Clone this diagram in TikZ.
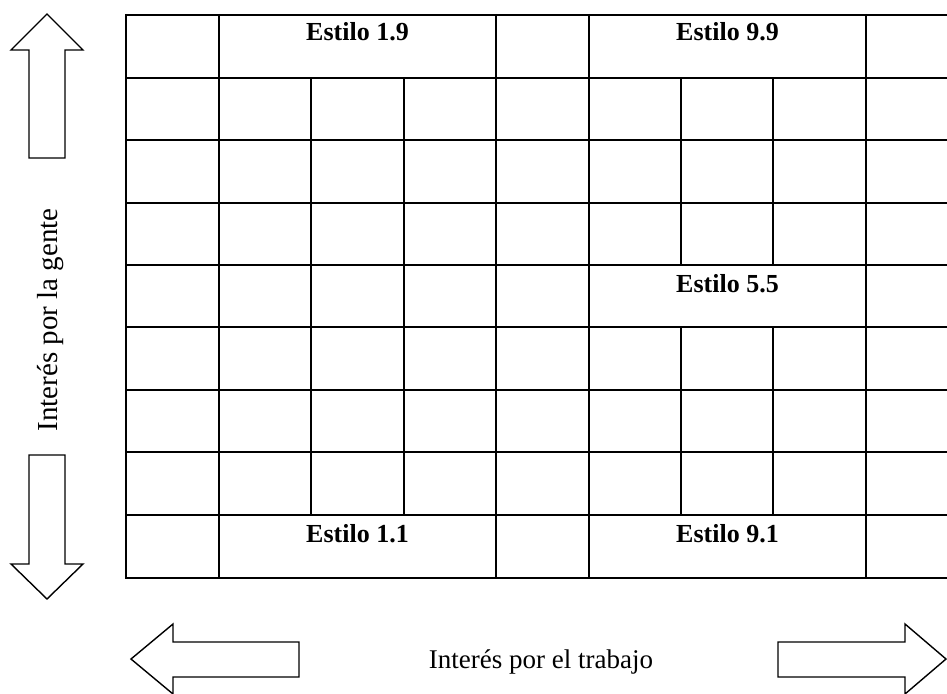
\documentclass[tikz,border=0pt]{standalone}
\usepackage{fontspec}
\setmainfont{Liberation Serif}
\begin{document}
\begin{tikzpicture}[x=1pt,y=-1pt,
  gridline/.style={line width=2pt},
  blockarrow/.style={draw,line width=1.4pt,line join=miter,fill=white},
  celllabel/.style={font=\fontsize{26}{30}\selectfont\bfseries,anchor=base},
  axislabel/.style={font=\fontsize{27}{32}\selectfont,anchor=base}]
\useasboundingbox (0,0) rectangle (947,693);
% horizontal rules of the grid
\foreach \y in {15,78,140,203,265,327,390,452,515,578}
  \draw[gridline] (125,\y) -- (947,\y);
% full-height column rules
\foreach \x in {126,219,496,589,866}
  \draw[gridline] (\x,14) -- (\x,579);
% inner column rules broken by the merged cells
\foreach \x in {311,404}
  \draw[gridline] (\x,78) -- (\x,515);
\foreach \x in {681,773}{
  \draw[gridline] (\x,78) -- (\x,265);
  \draw[gridline] (\x,327) -- (\x,515);}
% labels of the merged cells
\node[celllabel] (s19) at (357.5,41) {Estilo 1.9};
\node[celllabel] (s99) at (727.5,41) {Estilo 9.9};
\node[celllabel] (s55) at (727.5,292) {Estilo 5.5};
\node[celllabel] (s11) at (357.5,542) {Estilo 1.1};
\node[celllabel] (s91) at (727.5,542) {Estilo 9.1};
% vertical axis: arrows and label
\draw[blockarrow] (47,14) -- (83,50) -- (65,50) -- (65,158) -- (29,158) -- (29,50) -- (11,50) -- cycle;
\draw[blockarrow] (47,599) -- (83,564) -- (65,564) -- (65,455) -- (29,455) -- (29,564) -- (11,564) -- cycle;
\node[axislabel,font=\fontsize{29}{34}\selectfont,rotate=90] (ylab) at (57,320) {Interés por la gente};
% horizontal axis: arrows and label
\draw[blockarrow] (131,659) -- (173,624) -- (173,642) -- (299,642) -- (299,677) -- (173,677) -- (173,694) -- cycle;
\draw[blockarrow] (946,659) -- (905,624) -- (905,642) -- (778,642) -- (778,677) -- (905,677) -- (905,694) -- cycle;
\node[axislabel] (xlab) at (541,668) {Interés por el trabajo};
\end{tikzpicture}
\end{document}
